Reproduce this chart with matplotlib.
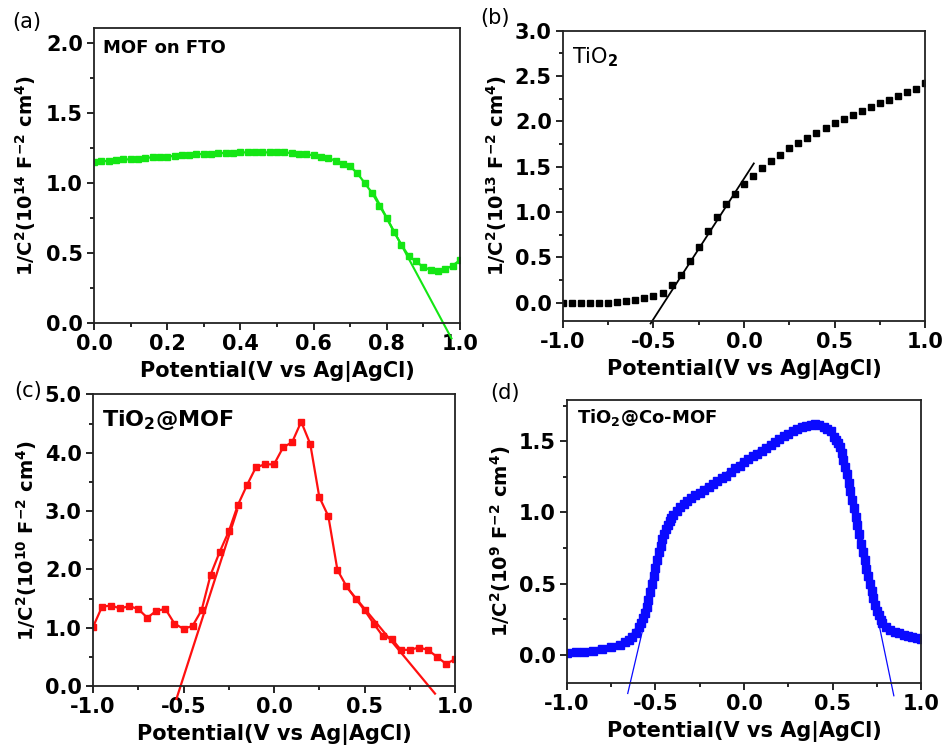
import matplotlib

matplotlib.use("Agg")
import matplotlib.pyplot as plt
from matplotlib.ticker import MultipleLocator, FormatStrFormatter

plt.rcParams["font.family"] = ["DejaVu Sans"]
plt.rcParams["font.weight"] = "bold"
plt.rcParams["mathtext.fontset"] = "dejavusans"
plt.rcParams["axes.unicode_minus"] = False

# (a) MOF on FTO, 1/C^2 in 1e14 F^-2 cm^4
a_x = [0.00, 0.02, 0.04, 0.06, 0.08, 0.10, 0.12, 0.14, 0.16, 0.18,
       0.20, 0.22, 0.24, 0.26, 0.28, 0.30, 0.32, 0.34, 0.36, 0.38,
       0.40, 0.42, 0.44, 0.46, 0.48, 0.50, 0.52, 0.54, 0.56, 0.58,
       0.60, 0.62, 0.64, 0.66, 0.68, 0.70, 0.72, 0.74, 0.76, 0.78,
       0.80, 0.82, 0.84, 0.86, 0.88, 0.90, 0.92, 0.94, 0.96, 0.98, 1.00]
a_y = [1.15, 1.155, 1.16, 1.165, 1.17, 1.17, 1.175, 1.18, 1.185, 1.19,
       1.19, 1.195, 1.20, 1.20, 1.205, 1.21, 1.21, 1.215, 1.215, 1.215,
       1.22, 1.22, 1.22, 1.22, 1.22, 1.22, 1.22, 1.215, 1.21, 1.205,
       1.20, 1.19, 1.18, 1.16, 1.14, 1.12, 1.07, 1.00, 0.93, 0.84,
       0.75, 0.65, 0.56, 0.48, 0.44, 0.40, 0.38, 0.375, 0.385, 0.41, 0.45]
a_fit_x = [0.77, 0.977]
a_fit_y = [0.90, -0.11]

# (b) TiO2, 1/C^2 in 1e13 F^-2 cm^4
b_x = [-1.00, -0.95, -0.90, -0.85, -0.80, -0.75, -0.70, -0.65, -0.60, -0.55,
       -0.50, -0.45, -0.40, -0.35, -0.30, -0.25, -0.20, -0.15, -0.10, -0.05,
       0.00, 0.05, 0.10, 0.15, 0.20, 0.25, 0.30, 0.35, 0.40, 0.45,
       0.50, 0.55, 0.60, 0.65, 0.70, 0.75, 0.80, 0.85, 0.90, 0.95, 1.00]
b_y = [-0.005, -0.005, -0.005, -0.005, -0.004, 0.0, 0.005, 0.015, 0.025, 0.05,
       0.075, 0.11, 0.19, 0.30, 0.456, 0.615, 0.79, 0.946, 1.086, 1.20,
       1.31, 1.395, 1.48, 1.56, 1.63, 1.70, 1.76, 1.82, 1.87, 1.93,
       1.98, 2.03, 2.07, 2.11, 2.16, 2.20, 2.24, 2.28, 2.32, 2.36, 2.42]
b_fit_x = [-0.516, 0.054]
b_fit_y = [-0.23, 1.535]

# (c) TiO2@MOF, 1/C^2 in 1e10 F^-2 cm^4
c_x = [-1.00, -0.95, -0.90, -0.85, -0.80, -0.75, -0.70, -0.65, -0.60, -0.55,
       -0.50, -0.45, -0.40, -0.35, -0.30, -0.25, -0.20, -0.15, -0.10, -0.05,
       0.00, 0.05, 0.10, 0.15, 0.20, 0.25, 0.30, 0.35, 0.40, 0.45,
       0.50, 0.55, 0.60, 0.65, 0.70, 0.75, 0.80, 0.85, 0.90, 0.95, 1.00]
c_y = [1.01, 1.36, 1.38, 1.33, 1.37, 1.32, 1.17, 1.29, 1.32, 1.07,
       0.98, 1.03, 1.30, 1.91, 2.30, 2.65, 3.10, 3.44, 3.75, 3.80,
       3.80, 4.09, 4.18, 4.53, 4.15, 3.24, 2.91, 1.99, 1.71, 1.50,
       1.30, 1.07, 0.86, 0.81, 0.62, 0.62, 0.66, 0.62, 0.50, 0.38, 0.46]
c_fit1_x = [-0.539, -0.204]
c_fit1_y = [-0.22, 3.01]
c_fit2_x = [0.40, 0.889]
c_fit2_y = [1.70, -0.13]

# (d) TiO2@Co-MOF, 1/C^2 in 1e9 F^-2 cm^4
d_x = [-1.00, -0.95, -0.90, -0.85, -0.80, -0.75, -0.70, -0.67, -0.65, -0.63,
       -0.61, -0.59, -0.58, -0.57, -0.56, -0.55, -0.54, -0.53, -0.52, -0.51,
       -0.50, -0.49, -0.48, -0.47, -0.46, -0.45, -0.44, -0.43, -0.42, -0.41,
       -0.40, -0.38, -0.36, -0.34, -0.32, -0.30, -0.275, -0.25, -0.225, -0.20,
       -0.175, -0.15, -0.125, -0.10, -0.075, -0.05, -0.025, 0.0, 0.025, 0.05,
       0.075, 0.10, 0.125, 0.15, 0.175, 0.20, 0.225, 0.25, 0.275, 0.30,
       0.325, 0.35, 0.375, 0.40, 0.425, 0.45, 0.47, 0.49, 0.51, 0.52,
       0.53, 0.54, 0.55, 0.56, 0.57, 0.58, 0.59, 0.60, 0.61, 0.62,
       0.63, 0.64, 0.65, 0.66, 0.67, 0.68, 0.69, 0.70, 0.71, 0.72,
       0.73, 0.74, 0.75, 0.76, 0.77, 0.78, 0.80, 0.825, 0.85, 0.875,
       0.90, 0.925, 0.95, 0.975, 1.00]
d_y = [0.010, 0.015, 0.020, 0.028, 0.036, 0.050, 0.068, 0.085, 0.100, 0.125,
       0.155, 0.195, 0.225, 0.255, 0.295, 0.335, 0.385, 0.44, 0.50, 0.555,
       0.61, 0.665, 0.72, 0.765, 0.81, 0.85, 0.885, 0.915, 0.94, 0.96,
       0.98, 1.01, 1.035, 1.06, 1.08, 1.10, 1.12, 1.14, 1.16, 1.18,
       1.20, 1.22, 1.24, 1.26, 1.285, 1.31, 1.33, 1.355, 1.375, 1.395,
       1.415, 1.435, 1.455, 1.475, 1.495, 1.515, 1.535, 1.555, 1.57, 1.585,
       1.60, 1.61, 1.618, 1.62, 1.615, 1.60, 1.59, 1.57, 1.53, 1.51,
       1.49, 1.46, 1.42, 1.37, 1.32, 1.27, 1.21, 1.15, 1.09, 1.03,
       0.97, 0.91, 0.85, 0.78, 0.72, 0.665, 0.605, 0.55, 0.495, 0.445,
       0.395, 0.35, 0.31, 0.275, 0.245, 0.225, 0.195, 0.175, 0.16, 0.15,
       0.14, 0.13, 0.122, 0.115, 0.108]
d_fit1_x = [-0.656, -0.563]
d_fit1_y = [-0.274, 0.22]
d_fit2_x = [0.745, 0.845]
d_fit2_y = [0.31, -0.29]

GREEN = "#14e614"
RED = "#ff1010"
BLUE = "#0a0aff"
XLABEL = "Potential(V vs Ag|AgCl)"


def style_axis(ax, xlim, ylim, xmaj, xmin, ymaj, ymin):
    ax.set_xlim(*xlim)
    ax.set_ylim(*ylim)
    ax.xaxis.set_major_locator(MultipleLocator(xmaj))
    ax.xaxis.set_minor_locator(MultipleLocator(xmin))
    ax.yaxis.set_major_locator(MultipleLocator(ymaj))
    ax.yaxis.set_minor_locator(MultipleLocator(ymin))
    ax.xaxis.set_major_formatter(FormatStrFormatter("%.1f"))
    ax.yaxis.set_major_formatter(FormatStrFormatter("%.1f"))
    ax.tick_params(which="both", direction="out", top=False, right=False,
                   width=1.2, labelsize=15, pad=3)
    ax.tick_params(which="major", length=5)
    ax.tick_params(which="minor", length=3)
    for s in ax.spines.values():
        s.set_linewidth(1.3)
        s.set_color("#222222")
    ax.set_xlabel(XLABEL, fontsize=15, fontweight="bold", labelpad=5)


def ylab(exp):
    return (r"1/C$^\mathbf{2}$(10$^\mathbf{%s}$ F$^\mathbf{-2}$ cm$^\mathbf{4}$)"
            % exp)


fig = plt.figure(figsize=(9.43, 7.46), dpi=100)

# (a)
ax = fig.add_axes([0.0997, 0.567, 0.388, 0.395])
ax.plot(a_x, a_y, "-s", color=GREEN, lw=1.6, ms=5)
ax.plot(a_fit_x, a_fit_y, "-", color=GREEN, lw=1.5, clip_on=False)
style_axis(ax, (0, 1.0), (0, 2.107), 0.2, 0.1, 0.5, 0.25)
ax.set_ylabel(ylab("14"), fontsize=14, fontweight="bold", labelpad=6)
ax.text(0.025, 0.932, "MOF on FTO", transform=ax.transAxes,
        fontsize=13, fontweight="bold", va="center", ha="left")

# (b)
ax = fig.add_axes([0.597, 0.570, 0.384, 0.389])
ax.plot(b_x, b_y, "s", color="black", ms=4.5, ls="none")
ax.plot(b_fit_x, b_fit_y, "-", color="black", lw=1.3, clip_on=False)
style_axis(ax, (-1.0, 1.0), (-0.2, 3.0), 0.5, 0.25, 0.5, 0.25)
ax.set_ylabel(ylab("13"), fontsize=14, fontweight="bold", labelpad=4)
ax.text(0.025, 0.907, r"TiO$_\mathrm{2}$", transform=ax.transAxes,
        fontsize=15, fontweight="normal", va="center", ha="left")

# (c)
ax = fig.add_axes([0.0986, 0.0804, 0.384, 0.391])
ax.plot(c_x, c_y, "-s", color=RED, lw=1.6, ms=4.5)
ax.plot(c_fit1_x, c_fit1_y, "-", color=RED, lw=1.6, clip_on=False)
ax.plot(c_fit2_x, c_fit2_y, "-", color=RED, lw=1.6, clip_on=False)
style_axis(ax, (-1.0, 1.0), (0, 5.0), 0.5, 0.25, 1.0, 0.5)
ax.set_ylabel(ylab("10"), fontsize=14, fontweight="bold", labelpad=4)
ax.text(0.025, 0.911, r"TiO$_\mathbf{2}$@MOF", transform=ax.transAxes,
        fontsize=16, fontweight="bold", va="center", ha="left")

# (d)
ax = fig.add_axes([0.601, 0.0845, 0.376, 0.379])
ax.plot(d_x, d_y, "-", color=BLUE, lw=4.5, solid_capstyle="butt")
ax.plot(d_x, d_y, "s", color=BLUE, ms=5.5, ls="none")
ax.plot(d_fit1_x, d_fit1_y, "-", color=BLUE, lw=0.9, clip_on=False)
ax.plot(d_fit2_x, d_fit2_y, "-", color=BLUE, lw=0.9, clip_on=False)
style_axis(ax, (-1.0, 1.0), (-0.2, 1.79), 0.5, 0.25, 0.5, 0.25)
ax.set_ylabel(ylab("9"), fontsize=14, fontweight="bold", labelpad=4)
ax.text(0.028, 0.94, r"TiO$_\mathbf{2}$@Co-MOF", transform=ax.transAxes,
        fontsize=13, fontweight="bold", va="center", ha="left")

# panel letters
for lbl, px, py in [("(a)", 27, 22), ("(b)", 495, 18),
                    ("(c)", 28, 391), ("(d)", 505, 393)]:
    fig.text(px / 943, 1 - py / 746, lbl, fontsize=15, fontweight="normal",
             ha="center", va="center")

fig.savefig("out.png", dpi=100)
plt.close(fig)
